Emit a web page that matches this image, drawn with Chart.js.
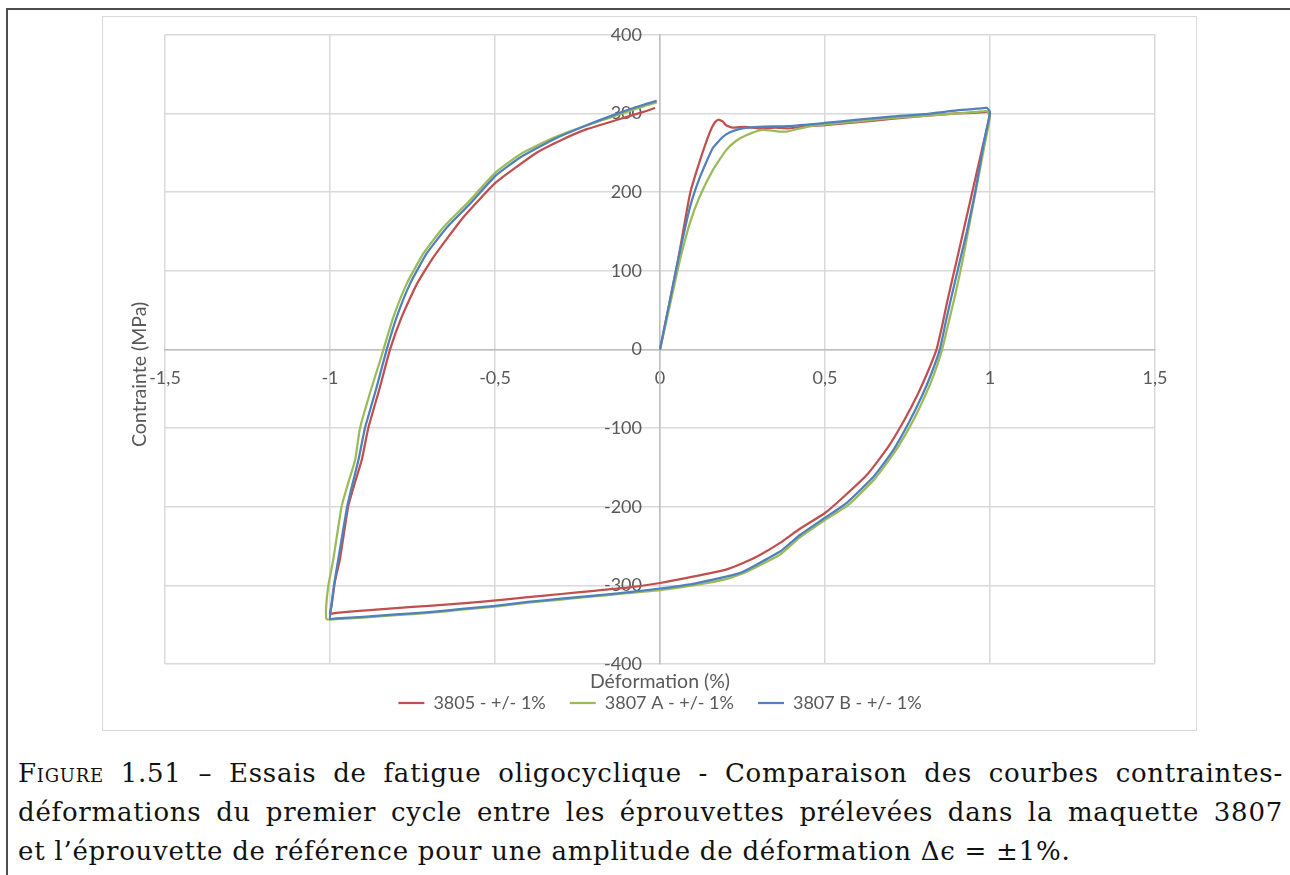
<!DOCTYPE html>
<html>
<head>
<meta charset="utf-8">
<script src="https://cdn.jsdelivr.net/npm/chart.js@4.4.0/dist/chart.umd.min.js"></script>
<style>
html, body { margin: 0; padding: 0; background: #fff; }
#page { position: relative; width: 1290px; height: 875px; overflow: hidden; }
#frame { position: absolute; left: 6px; top: 8px; right: -4px; bottom: -4px;
  border-left: 2px solid #4d4d4d; border-top: 2px solid #4d4d4d; }
#box { position: absolute; left: 102px; top: 16px; width: 1093px; height: 713px; border: 1px solid #d9d9d9; }
#wrap { position: absolute; left: 103px; top: 6px; width: 1092px; height: 716px; }
#caption { position: absolute; left: 18px; top: 754px; width: 1265px;
  font-family: "DejaVu Serif", serif; font-size: 26px; line-height: 39px; letter-spacing: 0.75px; color: #111; }
#caption .j { display: block; text-align: justify; text-align-last: justify; }
#caption .l { display: block; }
.sc { font-variant: small-caps; }
</style>
</head>
<body>
<div id="page">
  <div id="frame"></div>
  <div id="box"></div>
  <div id="wrap"><canvas id="cycleChart"></canvas></div>
  <div id="caption">
    <span class="j"><span class="sc">Figure</span> 1.51 – Essais de fatigue oligocyclique - Comparaison des courbes contraintes-</span>
    <span class="j">déformations du premier cycle entre les éprouvettes prélevées dans la maquette 3807</span>
    <span class="l">et l’éprouvette de référence pour une amplitude de déformation Δϵ = ±1%.</span>
  </div>
</div>
<script>
// premier cycle : [déformation (%), contrainte (MPa)]
const curve3805 = [
  [0,0],[0.03,62],[0.0545,113],[0.091,198],[0.121,240],[0.15,275],[0.165,288],[0.176,292],[0.19,290],
  [0.2,285],[0.22,282],[0.26,283],[0.3,281],[0.35,282],[0.39,281],[0.45,284],[0.5,285],[0.6,289],
  [0.7,293],[0.8,297],[0.9,300],[0.96,301],[0.99,302],[1.0,299],
  [0.975,253],[0.95,207],[0.925,161],[0.899,113],[0.87,60],[0.855,30],[0.838,0],[0.81,-30],[0.78,-58],
  [0.74,-90],[0.69,-125],[0.63,-158],[0.555,-188],[0.5,-208],[0.424,-228],[0.364,-246],[0.3,-262],
  [0.25,-272],[0.2,-280],[0.1,-289],[0,-297],[-0.1,-303],[-0.2,-307],[-0.3,-311],[-0.4,-315],
  [-0.545,-321],[-0.6,-323],[-0.7,-326],[-0.8,-329],[-0.9,-332],[-0.98,-335],[-1.0,-336],
  [-0.995,-325],[-0.985,-295],[-0.97,-267],[-0.945,-200],[-0.925,-170],[-0.904,-141],[-0.884,-100],
  [-0.85,-50],[-0.818,0],[-0.783,41],[-0.737,83],[-0.687,117],[-0.596,168],[-0.498,212],[-0.374,250],
  [-0.3,266],[-0.222,280],[-0.121,293],[-0.05,302],[-0.015,307]
];
const curve3807A = [
  [0,0],[0.03,56],[0.06,113],[0.09,160],[0.12,194],[0.16,228],[0.2,253],[0.23,265],[0.26,272],
  [0.31,279],[0.36,277],[0.385,277],[0.445,283],[0.5,286],[0.6,290],[0.7,294],[0.8,297],[0.9,300],
  [0.96,302],[0.99,303],[1.0,296],
  [0.985,263],[0.96,208],[0.94,164],[0.917,113],[0.895,70],[0.875,35],[0.855,0],[0.83,-32],[0.8,-62],
  [0.76,-96],[0.712,-130],[0.65,-165],[0.57,-198],[0.5,-217],[0.424,-239],[0.364,-261],[0.3,-275],
  [0.25,-285],[0.2,-292],[0.1,-300],[0,-306],[-0.1,-310],[-0.2,-314],[-0.3,-318],[-0.4,-322],
  [-0.5,-327],[-0.6,-331],[-0.7,-335],[-0.8,-338],[-0.9,-341],[-0.98,-343],[-1.01,-343],
  [-1.012,-330],[-1.005,-300],[-0.99,-267],[-0.965,-200],[-0.945,-170],[-0.924,-141],[-0.909,-100],
  [-0.875,-50],[-0.845,-10],[-0.838,0],[-0.808,41],[-0.768,83],[-0.717,122],[-0.657,155],
  [-0.586,185],[-0.498,225],[-0.424,248],[-0.323,269],[-0.222,285],[-0.121,299],[-0.05,309],[-0.01,314]
];
const curve3807B = [
  [0,0],[0.03,62],[0.0545,113],[0.091,181],[0.121,219],[0.16,256],[0.19,270],[0.212,276],[0.25,281],
  [0.3,283],[0.39,284],[0.5,288],[0.6,292],[0.7,296],[0.8,299],[0.9,304],[0.96,306],[0.99,307],[1.0,302],
  [0.98,260],[0.955,200],[0.93,150],[0.909,113],[0.885,70],[0.866,35],[0.848,0],[0.823,-30],[0.793,-60],
  [0.753,-94],[0.707,-128],[0.647,-162],[0.566,-195],[0.5,-214],[0.424,-236],[0.364,-257],[0.3,-272],
  [0.25,-283],[0.2,-289],[0.1,-298],[0,-304],[-0.1,-309],[-0.2,-313],[-0.3,-317],[-0.4,-321],
  [-0.5,-326],[-0.6,-330],[-0.7,-334],[-0.8,-337],[-0.9,-340],[-0.98,-342],[-1.0,-343],
  [-0.997,-330],[-0.988,-300],[-0.975,-267],[-0.948,-200],[-0.93,-168],[-0.914,-141],[-0.894,-100],
  [-0.86,-50],[-0.828,0],[-0.798,41],[-0.758,83],[-0.707,122],[-0.646,155],[-0.576,185],[-0.498,221],
  [-0.424,244],[-0.323,267],[-0.222,285],[-0.121,301],[-0.05,311],[-0.01,316]
];

const seriesNames = ["3805 - +/- 1%", "3807 A - +/- 1%", "3807 B - +/- 1%"];
const seriesColors = ["#C0504D", "#9BBB59", "#4F81BD"];
const xTitle = "Déformation (%)";
const yTitle = "Contrainte (MPa)";
const xRange = [-1.5, 1.5, 0.5];
const yRange = [-400, 400, 100];

const toPoints = arr => arr.map(p => ({x: p[0], y: p[1]}));
const fmt = v => String(v).replace('.', ',');

// titres d'axes dessinés hors des axes centrés
const axisTitles = {
  id: 'axisTitles',
  afterDraw(chart) {
    const {ctx, chartArea: a} = chart;
    ctx.save();
    ctx.fillStyle = '#595959';
    ctx.font = '19.5px Lato';
    ctx.textAlign = 'center';
    ctx.textBaseline = 'middle';
    ctx.fillText(xTitle, (a.left + a.right) / 2, a.bottom + 18);
    ctx.translate(a.left - 25, (a.top + a.bottom) / 2 + 25);
    ctx.rotate(-Math.PI / 2);
    ctx.fillText(yTitle, 0, 0);
    ctx.restore();
  }
};

// l'axe y centré ignore ticks.padding : on décale les libellés à gauche
const yLabelGap = {
  id: 'yLabelGap',
  beforeDraw(chart) {
    const items = chart.scales.y.getLabelItems(chart.chartArea);
    items.forEach(it => {
      if (!it._moved) { it.options.translation[0] -= 18; it._moved = true; }
    });
  }
};

Chart.defaults.font.family = 'Lato';
Chart.defaults.color = '#595959';

const ctx = document.getElementById('cycleChart').getContext('2d');
new Chart(ctx, {
  type: 'scatter',
  data: {
    datasets: [curve3805, curve3807A, curve3807B].map((c, i) => ({
      label: seriesNames[i],
      data: toPoints(c),
      showLine: true,
      borderColor: seriesColors[i],
      backgroundColor: seriesColors[i],
      borderWidth: 2.25,
      pointRadius: 0,
      pointHoverRadius: 0,
      pointStyle: 'line',
      tension: 0.15,
      order: 2 - i
    }))
  },
  options: {
    responsive: true,
    maintainAspectRatio: false,
    animation: false,
    events: [],
    layout: { padding: { left: 62, right: 40, top: 0, bottom: 0 } },
    scales: {
      x: {
        type: 'linear',
        position: { y: 0 },
        min: xRange[0], max: xRange[1],
        ticks: { stepSize: xRange[2], callback: fmt, font: { size: 18 }, padding: 18, maxRotation: 0 },
        grid: { color: '#d9d9d9', lineWidth: 1.5, drawTicks: false },
        border: { color: '#bfbfbf', width: 1.5 }
      },
      y: {
        type: 'linear',
        position: { x: 0 },
        min: yRange[0], max: yRange[1],
        ticks: { stepSize: yRange[2], callback: fmt, font: { size: 18 }, padding: 18 },
        grid: { color: '#d9d9d9', lineWidth: 1.5, drawTicks: false },
        border: { color: '#bfbfbf', width: 1.5 }
      }
    },
    plugins: {
      tooltip: { enabled: false },
      legend: {
        position: 'bottom',
        title: { display: true, text: '', font: { size: 1, lineHeight: 1 }, padding: { top: 5, bottom: 0 } },
        labels: {
          usePointStyle: true,
          pointStyleWidth: 26,
          padding: 24,
          font: { size: 18 },
          color: '#595959',
          sort: (a, b) => a.datasetIndex - b.datasetIndex
        }
      }
    }
  },
  plugins: [axisTitles, yLabelGap]
});
</script>
</body>
</html>
